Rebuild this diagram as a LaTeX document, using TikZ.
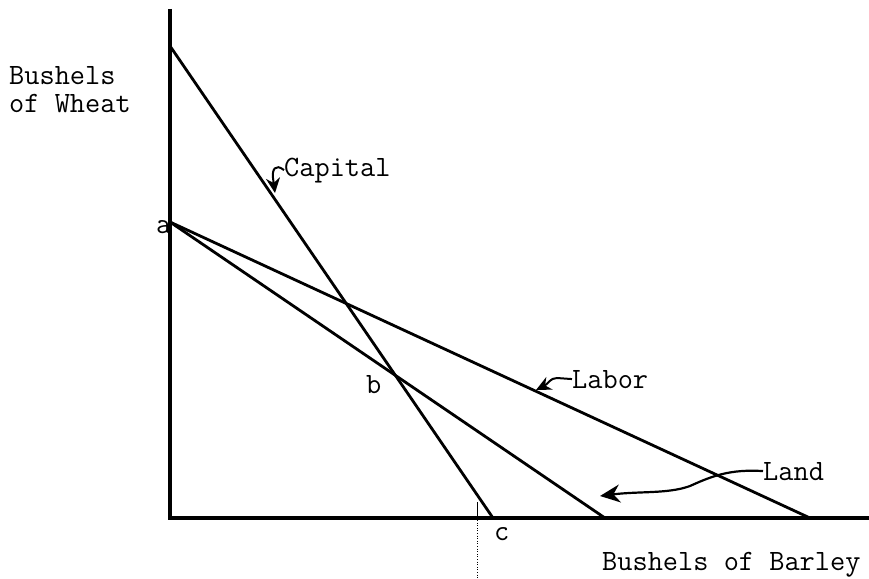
\documentclass[tikz,border=0pt]{standalone}
\usetikzlibrary{arrows.meta}
\begin{document}
\begin{tikzpicture}[x=1pt,y=-1pt,
  lbl/.style={font=\ttfamily\fontsize{29.5}{34}\selectfont, inner sep=0pt, anchor=base west},
  axisline/.style={line width=3.2pt},
  budget/.style={line width=2.8pt},
  pointer/.style={line width=2pt, -{Stealth[length=15pt,width=14pt]}},
  bigpointer/.style={line width=2.2pt, -{Stealth[length=20pt,width=18pt]}},
]
\useasboundingbox (0,0) rectangle (869,578);
\fill[white] (0,0) rectangle (869,578);
% axes
\coordinate (O) at (170,518);
\coordinate (ytop) at (170,9);
\coordinate (xend) at (869,518);
\draw[axisline] (ytop) -- (O) -- (xend);
% budget lines
\coordinate (capA) at (170,46);
\coordinate (capB) at (493,518);
\coordinate (a) at (170,222);
\coordinate (labB) at (810,518);
\coordinate (lanB) at (605,518);
\draw[budget] (capA) -- (capB);
\draw[budget] (a) -- (labB);
\draw[budget] (a) -- (lanB);
% thin marker
\coordinate (m1) at (477,502);
\coordinate (m2) at (477,520);
\coordinate (m3) at (477,578);
\draw[line width=0.8pt] (m1) -- (m2);
\draw[line width=0.6pt, dotted] (m2) -- (m3);
% labels
\node[lbl] (wheat1) at (9,84) {Bushels};
\node[lbl] (wheat2) at (9,112) {of Wheat};
\node[lbl] (barley) at (602,570) {Bushels of Barley};
\node[lbl] (capital) at (284,176) {Capital};
\node[lbl] (labor) at (572,388) {Labor};
\node[lbl] (land) at (763,480) {Land};
\node[lbl] (la) at (156,233) {a};
\node[lbl] (lb) at (366,393) {b};
\node[lbl] (lc) at (494,540) {c};
% pointers
\coordinate (capBend) at (273,178);
\coordinate (capTip) at (275,193);
\coordinate (labTip) at (536,390);
\coordinate (lanTip) at (600,496);
\draw[pointer] (capital.west) .. controls (275,163) and (272,170) .. (capBend) -- (capTip);
\draw[pointer] (labor.west) -- (557,378) .. controls (550,378) and (548,384) .. (labTip);
\draw[bigpointer] (land.west) .. controls (730,469) and (712,476) .. (690,486) .. controls (668,494) and (640,491) .. (lanTip);
\end{tikzpicture}
\end{document}
